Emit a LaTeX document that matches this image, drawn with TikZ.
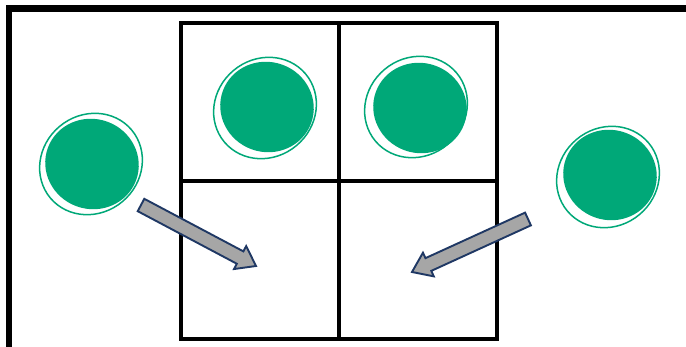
\documentclass[tikz,border=0pt]{standalone}
\usetikzlibrary{calc}
\definecolor{tokgreen}{RGB}{0,168,120}
\definecolor{arrgray}{RGB}{166,166,166}
\definecolor{arrnavy}{RGB}{31,56,100}
\begin{document}
\begin{tikzpicture}[x=1pt,y=-1pt,
  blobfill/.style={fill=tokgreen,draw=none},
  blobring/.style={draw=tokgreen,line width=1.5pt,fill=none},
  gridline/.style={draw=black,line width=3.2pt},
  bigarrow/.style={fill=arrgray,draw=arrnavy,line width=1.9pt,line join=miter}]
\useasboundingbox (0,0) rectangle (686,347);
\fill[white] (0,0) rectangle (686,347);
% frame bars
\fill[black] (6,5) rectangle (686,12);
\fill[black] (6,5) rectangle (12,347);
% grid
\draw[gridline] (181,23) rectangle (497,339);
\draw[gridline] (339,23) -- (339,339);
\draw[gridline] (181,181) -- (497,181);
% tokens
\newcommand{\token}[4]{%
  \fill[blobfill,rotate around={-20:(#1,#2)}] (#1,#2) ellipse (47 and 45);
  \draw[blobring,rotate around={40:(#3,#4)}] (#3,#4) ellipse (53 and 49);}
\token{267}{107}{265}{108}
\token{420}{108}{416}{107}
\token{92}{164}{91}{164}
\token{610}{175}{608}{177}
% arrows
\newcommand{\fatarrow}[4]{%
  \coordinate (T) at (#1,#2);
  \coordinate (P) at (#3,#4);
  \coordinate (H) at ($(P)!18pt!(T)$);
  \draw[bigarrow] ($(T)!7pt!90:(P)$) -- ($(H)!7pt!-90:(T)$) -- ($(H)!13pt!-90:(T)$) -- (P)
     -- ($(H)!13pt!90:(T)$) -- ($(H)!7pt!90:(T)$) -- ($(T)!7pt!-90:(P)$) -- cycle;}
\fatarrow{141}{205}{256}{266}
\fatarrow{528}{219}{412}{272}
\end{tikzpicture}
\end{document}
